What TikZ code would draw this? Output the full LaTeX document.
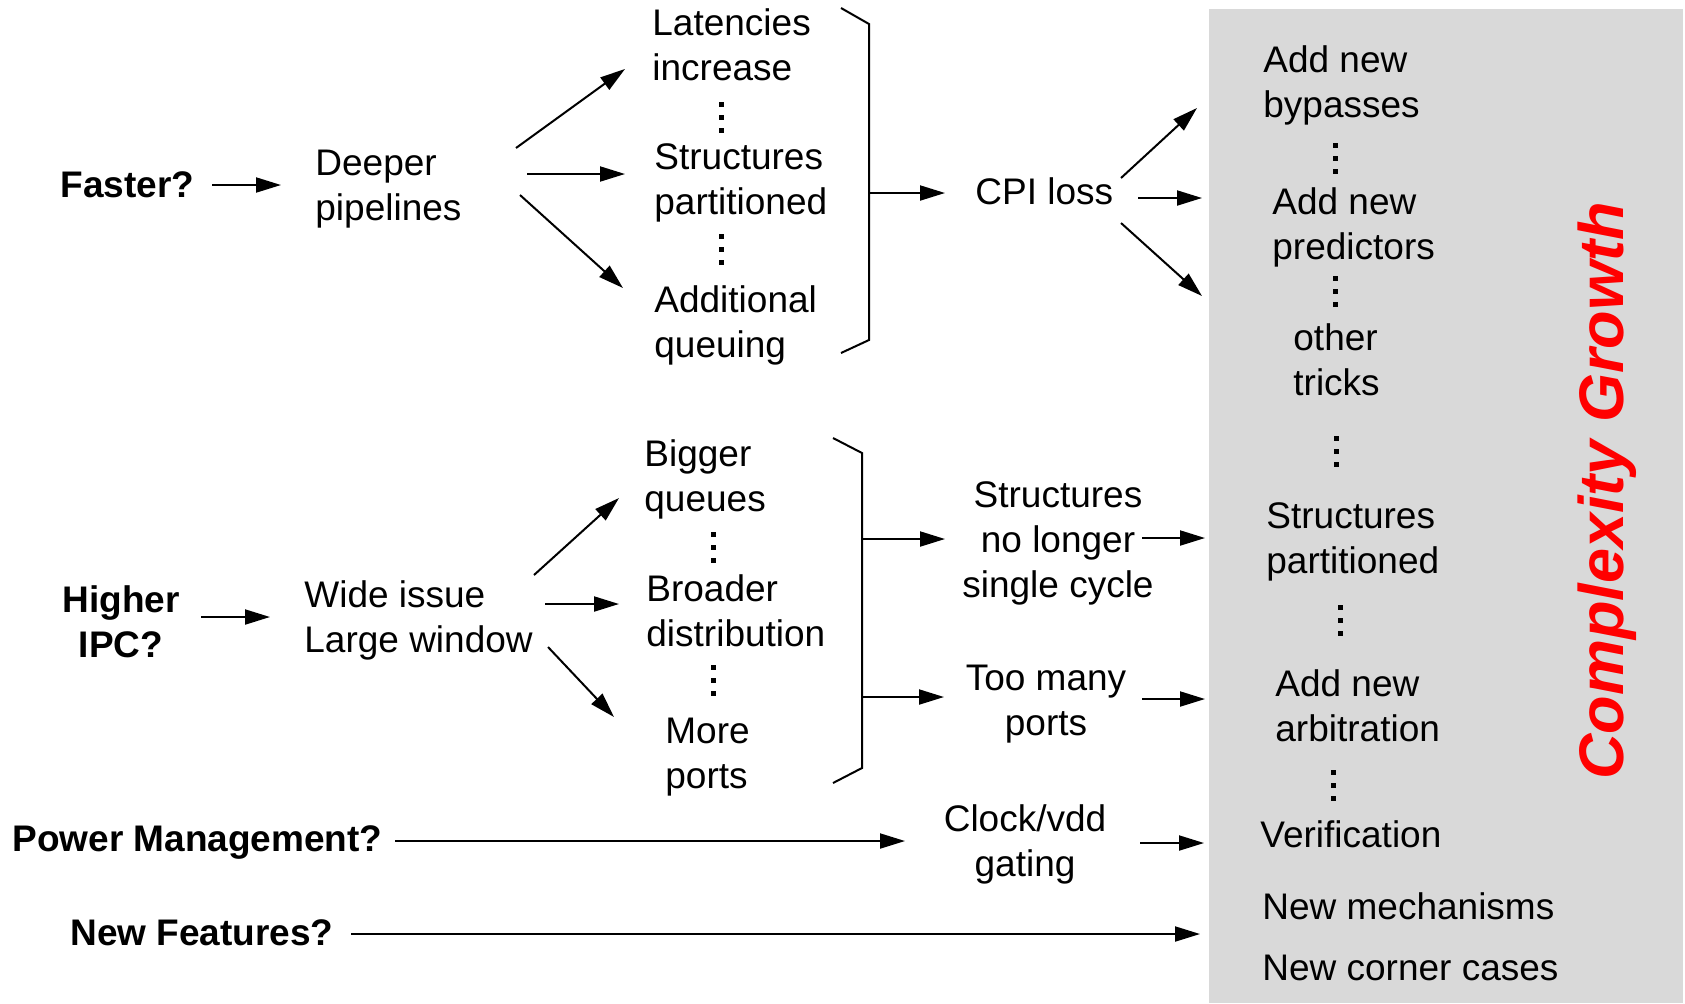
\documentclass[tikz,border=0pt]{standalone}
\usepackage{fontspec}
\setmainfont{Liberation Sans}
\usetikzlibrary{arrows.meta}
\definecolor{panelgray}{gray}{0.85}
\begin{document}
\begin{tikzpicture}[x=0.5pt,y=-0.5pt,
  txt/.style={inner sep=0pt, align=left, font=\fontsize{18.5}{22.5}\selectfont},
  ctxt/.style={txt, align=center},
  hd/.style={inner sep=0pt, align=center, font=\fontsize{18.5}{22.5}\selectfont\bfseries},
  arr/.style={line width=1pt, -{Triangle[length=12.5pt,width=7.5pt]}},
  brk/.style={line width=1pt, line join=miter},
  tridot/.pic={\foreach \d in {-13,0,13} \fill (-2.5,\d-2.5) rectangle (2.5,\d+2.5);}
]
\useasboundingbox (0,0) rectangle (1685,1003);

% shaded column on the right
\fill[panelgray] (1209,9) rectangle (1683,1003);

% ---------------- Faster? ----------------
\node[hd, anchor=north west] (faster) at (60,171) {Faster?};
\node[txt, anchor=north west] (deeper) at (315,150) {Deeper\\pipelines};
\node[txt, anchor=north west] (lat) at (652,8) {Latencies\\increase};
\node[txt, anchor=north west] (spart) at (654,143) {Structures\\partitioned};
\node[txt, anchor=north west] (addq) at (654,285) {Additional\\queuing};
\node[txt, anchor=north west] (cpi) at (975,177) {CPI loss};
\pic at (721,117) {tridot};
\pic at (721,249) {tridot};

\draw[brk] (841,8) -- (869,24) -- (869,340) -- (841,353);
\coordinate (br1) at (869,193);

\coordinate (faster-o) at (212,185);  \coordinate (deeper-i) at (281,185);
\coordinate (deeper-o1) at (516,148); \coordinate (lat-i) at (625,69);
\coordinate (deeper-o2) at (527,174); \coordinate (spart-i) at (625,174);
\coordinate (deeper-o3) at (520,195); \coordinate (addq-i) at (623,288);
\coordinate (cpi-i) at (945,193);
\coordinate (cpi-o1) at (1121,178); \coordinate (byp-i) at (1197,108);
\coordinate (cpi-o2) at (1138,198); \coordinate (pred-i) at (1202,198);
\coordinate (cpi-o3) at (1121,223); \coordinate (tricks-i) at (1202,296);

\draw[arr] (faster-o) -- (deeper-i);
\draw[arr] (deeper-o1) -- (lat-i);
\draw[arr] (deeper-o2) -- (spart-i);
\draw[arr] (deeper-o3) -- (addq-i);
\draw[arr] (br1) -- (cpi-i);
\draw[arr] (cpi-o1) -- (byp-i);
\draw[arr] (cpi-o2) -- (pred-i);
\draw[arr] (cpi-o3) -- (tricks-i);

% ---------------- Higher IPC? ----------------
\node[hd, anchor=north] (higher) at (121,585) {Higher\\IPC?};
\node[txt, anchor=north west] (wide) at (304,580) {Wide issue\\Large window};
\node[txt, anchor=north west] (bigger) at (644,439) {Bigger\\queues};
\node[txt, anchor=north west] (broader) at (646,574) {Broader\\distribution};
\node[txt, anchor=north west] (more) at (665,718) {More\\ports};
\node[ctxt, anchor=north] (single) at (1058,481) {Structures\\no longer\\single cycle};
\node[ctxt, anchor=north] (many) at (1046,665) {Too many\\ports};
\pic at (713,547) {tridot};
\pic at (713,680) {tridot};

\draw[brk] (833,438) -- (862,453) -- (862,768) -- (833,783);
\coordinate (br2a) at (862,539);
\coordinate (br2b) at (862,697);

\coordinate (higher-o) at (201,617); \coordinate (wide-i) at (270,617);
\coordinate (wide-o1) at (534,575);  \coordinate (bigger-i) at (619,498);
\coordinate (wide-o2) at (545,604);  \coordinate (broader-i) at (619,604);
\coordinate (wide-o3) at (548,647);  \coordinate (more-i) at (614,717);
\coordinate (single-i) at (945,539);
\coordinate (many-i) at (944,697);
\coordinate (single-o) at (1142,538); \coordinate (ppart-i) at (1205,538);
\coordinate (many-o) at (1142,699);   \coordinate (arb-i) at (1205,699);

\draw[arr] (higher-o) -- (wide-i);
\draw[arr] (wide-o1) -- (bigger-i);
\draw[arr] (wide-o2) -- (broader-i);
\draw[arr] (wide-o3) -- (more-i);
\draw[arr] (br2a) -- (single-i);
\draw[arr] (br2b) -- (many-i);
\draw[arr] (single-o) -- (ppart-i);
\draw[arr] (many-o) -- (arb-i);

% ---------------- Power / features ----------------
\node[hd, anchor=north west] (power) at (12,825) {Power Management?};
\node[ctxt, anchor=north] (clock) at (1025,804) {Clock/vdd\\gating};
\node[hd, anchor=north west] (feat) at (70,919) {New Features?};

\coordinate (power-o) at (395,841); \coordinate (clock-i) at (905,841);
\coordinate (clock-o) at (1140,843); \coordinate (verif-i) at (1204,843);
\coordinate (feat-o) at (351,934);  \coordinate (mech-i) at (1200,934);

\draw[arr] (power-o) -- (clock-i);
\draw[arr] (clock-o) -- (verif-i);
\draw[arr] (feat-o) -- (mech-i);

% ---------------- consequences column ----------------
\node[txt, anchor=north west] (byp) at (1263,45) {Add new\\bypasses};
\node[txt, anchor=north west] (pred) at (1272,187) {Add new\\predictors};
\node[txt, anchor=north west] (tricks) at (1293,323) {other\\tricks};
\node[txt, anchor=north west] (ppart) at (1266,502) {Structures\\partitioned};
\node[txt, anchor=north west] (arb) at (1275,669) {Add new\\arbitration};
\node[txt, anchor=north west] (verif) at (1260,820) {Verification};
\node[txt, anchor=north west] (mech) at (1262,892) {New mechanisms};
\node[txt, anchor=north west] (corner) at (1262,955) {New corner cases};
\pic at (1335,158) {tridot};
\pic at (1335,291) {tridot};
\pic at (1336,451) {tridot};
\pic at (1340,620) {tridot};
\pic at (1333,785) {tridot};

\node[rotate=90, anchor=base, inner sep=0pt, text=red,
      font=\fontsize{31.5}{31.5}\selectfont\bfseries\itshape] (growth) at (1623,491) {Complexity Growth};
\end{tikzpicture}
\end{document}
